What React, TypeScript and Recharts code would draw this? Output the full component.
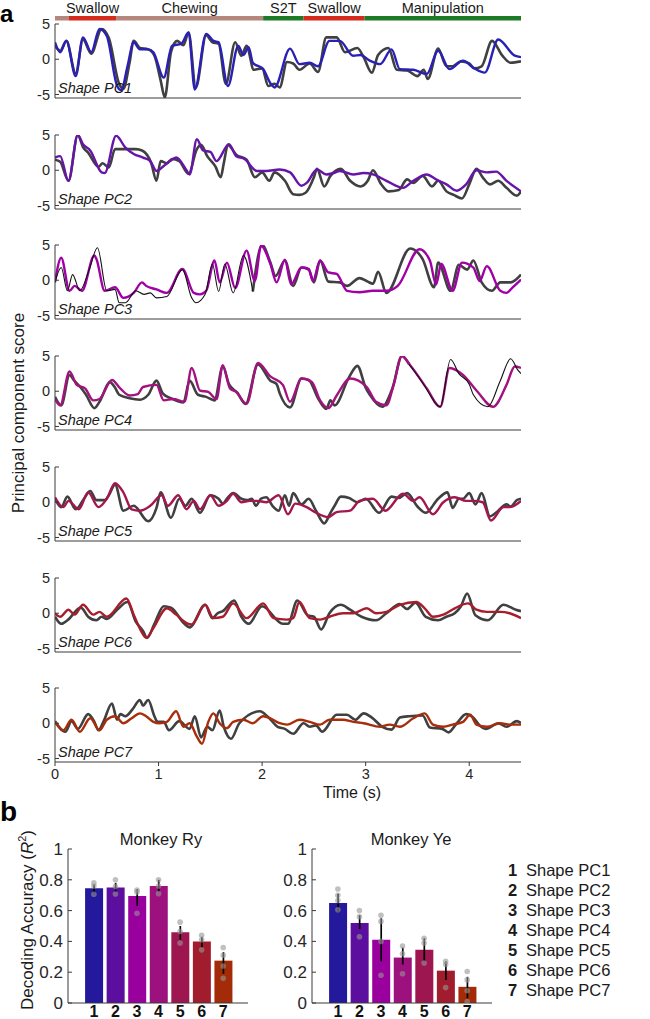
import React from 'react';
import {
  LineChart, Line, XAxis, YAxis, BarChart, Bar, ComposedChart, ErrorBar, Scatter, Cell,
} from 'recharts';

const FONT = '"Liberation Sans", Arial, Helvetica, sans-serif';
const INK = '#262626';
const AXIS = '#3a3a3a';
const GRAY = '#404040';

// ---------------- behaviour bar ----------------
const behaviourNames = ['Chewing', 'Swallow', 'Chewing', 'S2T', 'Swallow', 'Manipulation'];
const behaviourBounds = [0, 0.135, 0.59, 2.01, 2.4, 2.99, 4.5];
const behaviourShowLabel = [false, true, true, true, true, true];
const behaviourColors: Record<string, string> = {
  Chewing: '#b5867b', Swallow: '#d52b1d', S2T: '#1d7a27', Manipulation: '#1d7a27',
};

// ---------------- traces ----------------
const timeDomain = [0, 4.5];
const timeTicks = [0, 1, 2, 3, 4];
const scoreDomain = [-5.5, 5];
const scoreTicks = [-5, 0, 5];
const pcNames = ['Shape PC1', 'Shape PC2', 'Shape PC3', 'Shape PC4', 'Shape PC5', 'Shape PC6', 'Shape PC7'];
const pcLineColors = ['#2a20b5', '#6714a8', '#a000a6', '#a3127f', '#a3164e', '#a81d2c', '#a82d0b'];

const pc1Actual = [[0,1.9],[0.05,1.2],[0.11,2.6],[0.2,-2.0],[0.27,2.8],[0.35,0.8],[0.45,4.3],[0.52,3.0],[0.62,-3.5],[0.66,-4.2],[0.72,-0.5],[0.76,2.6],[0.82,1.6],[0.9,1.4],[0.96,0.5],[1.02,-3.0],[1.06,-5.4],[1.12,1.0],[1.18,2.6],[1.24,2.0],[1.29,3.8],[1.36,-4.0],[1.46,3.4],[1.52,2.4],[1.58,2.2],[1.65,-3.5],[1.74,2.4],[1.8,0.5],[1.85,1.9],[1.92,-1.5],[2.0,-1.3],[2.06,-3.8],[2.12,-3.5],[2.17,-4.0],[2.24,-0.4],[2.3,-0.6],[2.36,-1.5],[2.46,-0.6],[2.54,-1.8],[2.62,3.1],[2.72,3.1],[2.8,1.0],[2.92,1.6],[2.98,0.3],[3.06,-1.9],[3.12,0.6],[3.22,1.6],[3.3,-1.5],[3.4,-1.6],[3.5,-2.4],[3.56,-1.5],[3.6,-2.8],[3.7,1.5],[3.78,-1.0],[3.84,-1.0],[3.92,-0.3],[4.0,-0.6],[4.05,-1.3],[4.12,-1.0],[4.22,2.6],[4.32,0.5],[4.4,-0.5],[4.5,-0.3]];
const pc1Decoded = [[0,2.4],[0.05,1.0],[0.11,2.6],[0.2,-2.4],[0.27,3.1],[0.35,1.0],[0.43,4.3],[0.5,3.3],[0.6,-3.8],[0.64,-4.4],[0.7,-1.0],[0.76,2.4],[0.82,1.4],[0.9,1.4],[0.95,1.0],[1.05,-2.6],[1.13,1.9],[1.22,2.2],[1.29,3.8],[1.35,-4.3],[1.46,3.6],[1.53,2.6],[1.58,2.4],[1.67,-3.8],[1.77,1.9],[1.82,0.6],[1.87,1.7],[1.91,-0.5],[2.01,-1.4],[2.08,-3.4],[2.12,-4.0],[2.27,1.5],[2.36,-0.7],[2.46,-0.5],[2.54,-1.0],[2.65,2.6],[2.75,2.6],[2.88,0.5],[2.95,0.6],[3.04,-0.2],[3.14,-0.7],[3.25,1.4],[3.33,-1.4],[3.46,-1.5],[3.59,-2.1],[3.7,1.2],[3.81,-1.4],[3.94,-0.2],[4.04,-1.2],[4.15,-1.9],[4.28,2.8],[4.44,0.5],[4.5,0.3]];

const pc2Actual = [[0,1.5],[0.05,1.2],[0.13,-1.5],[0.22,5.0],[0.27,3.3],[0.32,2.5],[0.42,0.5],[0.46,1.0],[0.52,0.4],[0.58,3.0],[0.68,3.0],[0.78,3.0],[0.84,2.8],[0.93,1.0],[0.98,-1.5],[1.02,1.3],[1.08,1.0],[1.13,1.6],[1.2,1.3],[1.29,-0.5],[1.37,3.0],[1.41,3.6],[1.47,2.0],[1.55,0.5],[1.6,-1.0],[1.63,1.0],[1.67,3.6],[1.75,2.2],[1.85,1.5],[1.93,-1.0],[2.0,-0.3],[2.07,-1.5],[2.12,-0.3],[2.22,-1.5],[2.3,-3.4],[2.36,-3.5],[2.42,-3.2],[2.5,-1.0],[2.53,0.2],[2.6,-2.3],[2.66,-0.8],[2.76,0.2],[2.85,-1.5],[2.95,-2.3],[3.02,-1.5],[3.07,0],[3.15,-2.0],[3.22,-3.0],[3.32,-2.8],[3.4,-1.3],[3.46,-1.8],[3.55,-0.8],[3.64,-2.3],[3.7,-1.5],[3.78,-3.0],[3.85,-3.5],[3.93,-4.0],[4.0,-2.0],[4.07,0.2],[4.13,-1.0],[4.2,-2.0],[4.28,-1.5],[4.36,-2.5],[4.46,-3.6],[4.5,-3.0]];
const pc2Decoded = [[0,1.8],[0.05,2.0],[0.13,-1.5],[0.22,5.0],[0.27,3.7],[0.34,2.8],[0.45,-0.3],[0.48,-0.4],[0.59,4.9],[0.68,3.2],[0.76,2.3],[0.85,1.8],[0.92,1.3],[0.98,-0.1],[1.05,0.6],[1.11,1.3],[1.17,1.8],[1.27,0],[1.3,-0.6],[1.37,4.4],[1.43,2.8],[1.5,2.6],[1.56,1.3],[1.68,3.7],[1.75,2.0],[1.83,1.6],[1.95,-0.1],[2.04,-0.1],[2.17,0.1],[2.27,-0.3],[2.38,-2.2],[2.43,-1.8],[2.53,0.1],[2.62,-0.6],[2.69,-0.4],[2.75,-0.1],[2.88,-0.6],[2.98,-0.4],[3.07,-0.6],[3.2,-1.5],[3.36,-2.5],[3.46,-1.5],[3.59,-0.6],[3.68,-1.3],[3.78,-2.0],[3.88,-2.9],[3.97,-2.0],[4.07,0],[4.17,-0.3],[4.26,-0.2],[4.36,-1.5],[4.5,-3.0]];

const pc3Actual = [[0,-0.3],[0.06,1.8],[0.12,-1.5],[0.17,0.8],[0.24,-1.5],[0.33,1.5],[0.41,4.6],[0.5,-1.5],[0.58,-1.3],[0.62,-3.2],[0.68,-3.2],[0.78,-1.5],[0.86,-2.0],[0.92,-1.8],[0.98,-2.5],[1.08,-2.3],[1.23,1.5],[1.32,-2.5],[1.36,-3.2],[1.45,-2.0],[1.52,2.3],[1.58,-1.6],[1.64,2.3],[1.72,-1.8],[1.82,3.5],[1.91,-1.6],[2.0,5.0],[2.08,2.5],[2.13,0.6],[2.22,2.8],[2.3,-0.8],[2.38,1.8],[2.45,1.5],[2.5,-0.3],[2.56,2.8],[2.64,-0.2],[2.75,-0.3],[2.82,-0.8],[2.94,0.3],[3.02,-0.2],[3.07,-0.5],[3.12,1.2],[3.2,-1.8],[3.43,4.5],[3.55,3.0],[3.66,-1.0],[3.7,2.5],[3.82,-1.5],[3.9,2.2],[3.98,1.5],[4.04,2.8],[4.12,-0.3],[4.22,-1.5],[4.3,-0.3],[4.4,-0.3],[4.5,0.8]];
const pc3Decoded = [[0,-0.3],[0.06,3.2],[0.14,-1.5],[0.19,-0.8],[0.26,-1.5],[0.38,3.5],[0.4,3.0],[0.48,-1.5],[0.58,-1.0],[0.66,-2.5],[0.76,-1.8],[0.84,-0.3],[0.88,-0.8],[0.98,-1.3],[1.08,-1.8],[1.23,1.6],[1.34,-1.8],[1.4,-2.0],[1.46,-1.5],[1.54,2.8],[1.59,-0.3],[1.66,2.5],[1.74,-1.1],[1.85,4.2],[1.93,-0.1],[1.99,4.9],[2.08,2.3],[2.14,-0.3],[2.22,2.9],[2.28,-0.6],[2.38,1.8],[2.45,1.6],[2.49,-0.1],[2.56,2.8],[2.64,1.1],[2.72,0.9],[2.82,-1.5],[2.94,-1.7],[3.07,-1.5],[3.2,-1.5],[3.31,-0.8],[3.52,4.4],[3.62,2.8],[3.68,-0.6],[3.73,2.3],[3.84,-1.5],[3.93,2.5],[4.04,1.8],[4.1,-0.1],[4.17,2.0],[4.3,-1.5],[4.36,-1.8],[4.42,-1.0],[4.5,0.1]];

const pc4Actual = [[0,-0.8],[0.06,-2.0],[0.14,2.3],[0.18,1.6],[0.25,0.5],[0.3,-0.5],[0.38,-2.4],[0.43,-1.5],[0.53,1.3],[0.58,0.5],[0.62,-0.5],[0.72,-1.0],[0.82,-1.2],[0.9,-0.5],[0.98,1.5],[1.04,-0.3],[1.12,-1.0],[1.24,-1.6],[1.3,1.5],[1.38,-0.5],[1.46,-0.8],[1.54,-1.3],[1.62,3.5],[1.68,1.0],[1.76,-0.2],[1.84,-1.8],[1.96,3.8],[2.08,1.5],[2.14,1.0],[2.17,-0.3],[2.27,-2.3],[2.38,1.8],[2.45,1.6],[2.54,-1.0],[2.62,-2.5],[2.66,-1.3],[2.7,-2.0],[2.84,2.0],[2.92,3.6],[3.0,0.5],[3.04,-0.5],[3.16,-2.2],[3.26,0.5],[3.35,5.0],[3.42,3.8],[3.58,0.5],[3.62,-0.5],[3.72,-2.2],[3.82,4.5],[3.9,2.5],[4.0,1.0],[4.04,-0.5],[4.18,-2.2],[4.3,1.5],[4.4,4.6],[4.47,3.0],[4.5,2.5]];
const pc4Decoded = [[0,-1.1],[0.05,-2.0],[0.14,2.8],[0.21,0.9],[0.29,0.4],[0.37,-1.3],[0.43,-1.1],[0.55,1.6],[0.63,0.4],[0.72,-0.6],[0.8,-0.4],[0.85,0.6],[0.98,0.9],[1.05,-1.3],[1.14,-1.1],[1.25,-1.5],[1.32,3.3],[1.4,0.1],[1.48,-0.1],[1.56,-1.1],[1.62,3.7],[1.69,0.4],[1.75,-0.1],[1.85,-1.8],[1.96,4.0],[2.08,2.1],[2.2,0.9],[2.27,-1.5],[2.38,1.8],[2.48,1.3],[2.56,-1.3],[2.64,-2.4],[2.72,-0.6],[2.85,1.8],[3.01,0.6],[3.1,-1.5],[3.2,-2.0],[3.27,0.9],[3.35,5.0],[3.43,3.7],[3.59,0.4],[3.72,-2.2],[3.81,3.3],[3.94,2.3],[4.07,0.1],[4.23,-2.2],[4.36,0.9],[4.44,3.5],[4.5,3.3]];

const pc5Actual = [[0,0.5],[0.06,-0.7],[0.12,0.8],[0.2,-1.0],[0.28,0.5],[0.34,1.6],[0.4,0.3],[0.48,0.3],[0.52,1.0],[0.58,2.5],[0.66,-1.2],[0.76,-0.5],[0.9,-2.7],[0.98,-0.8],[1.02,1.4],[1.12,-2.2],[1.2,0.5],[1.26,-0.5],[1.32,0.5],[1.4,-1.5],[1.5,1.0],[1.58,0.5],[1.62,-0.2],[1.66,0.5],[1.72,1.3],[1.8,0.5],[1.86,0.3],[1.9,0.5],[1.94,-0.5],[1.99,0.5],[2.04,0.7],[2.1,-0.5],[2.16,-1.2],[2.22,1.0],[2.26,-0.5],[2.3,1.3],[2.38,-0.3],[2.45,0.5],[2.52,-1.2],[2.6,-3.0],[2.66,-1.5],[2.7,-0.5],[2.76,0.8],[2.84,0.6],[2.92,0],[3.0,0.5],[3.13,-1.5],[3.25,0.8],[3.32,0.6],[3.4,1.3],[3.5,-0.6],[3.58,-1.5],[3.7,0.5],[3.79,1.4],[3.84,-0.8],[3.9,0.5],[3.94,0.5],[4.0,1.3],[4.06,-0.3],[4.12,1.3],[4.2,-2.0],[4.28,-1.2],[4.36,-0.3],[4.4,-0.6],[4.46,0.3],[4.5,0.5]];
const pc5Decoded = [[0,0.7],[0.08,-0.7],[0.13,0.2],[0.23,-1.0],[0.32,1.4],[0.42,-0.7],[0.5,0.5],[0.58,2.7],[0.66,1.4],[0.74,-1.0],[0.82,-1.2],[0.92,-0.5],[1.03,1.0],[1.09,-0.5],[1.19,1.0],[1.27,-1.0],[1.34,0.2],[1.4,-1.0],[1.5,1.0],[1.58,-0.5],[1.66,0.2],[1.72,1.2],[1.8,0],[1.88,0.2],[1.95,0.2],[2.04,0],[2.16,1.0],[2.25,-1.7],[2.32,-0.2],[2.43,-0.7],[2.51,-1.4],[2.64,-2.1],[2.72,-1.4],[2.85,-1.2],[2.94,0.2],[3.07,0.5],[3.19,-1.2],[3.36,1.2],[3.46,0.2],[3.52,0.7],[3.65,-1.7],[3.75,0],[3.86,0.7],[3.97,0.2],[4.04,0.2],[4.13,0],[4.21,-2.6],[4.33,-0.7],[4.39,-0.7],[4.5,0.2]];

const pc6Actual = [[0,-0.5],[0.06,-1.5],[0.12,-1.0],[0.25,0.8],[0.32,-0.5],[0.4,-1.0],[0.45,-0.5],[0.5,-0.8],[0.6,0.5],[0.7,1.6],[0.78,-1.2],[0.85,-2.5],[0.89,-3.5],[0.96,-1.5],[1.05,1.0],[1.12,0.8],[1.25,-1.5],[1.3,-2.0],[1.45,1.2],[1.52,-0.7],[1.57,0],[1.62,0.3],[1.73,1.8],[1.8,-0.5],[1.87,-1.5],[2.0,1.0],[2.2,-1.5],[2.25,-1.5],[2.34,1.8],[2.44,-0.3],[2.5,-0.5],[2.57,-2.3],[2.65,0],[2.76,1.2],[2.85,0.5],[2.96,-0.5],[3.1,-1.0],[3.2,0],[3.33,1.3],[3.4,0.6],[3.48,1.5],[3.58,-0.5],[3.7,-1.0],[3.78,-0.5],[3.86,0],[3.92,1.0],[3.98,2.8],[4.06,-0.3],[4.18,-1.0],[4.33,1.2],[4.45,0.5],[4.5,0.3]];
const pc6Decoded = [[0,0],[0.05,-0.5],[0.13,0.5],[0.19,-0.2],[0.27,1.2],[0.37,-0.2],[0.43,0.2],[0.5,-0.5],[0.69,2.1],[0.76,-0.2],[0.85,-3.0],[0.88,-3.5],[0.95,-2.1],[1.08,0.7],[1.17,-0.2],[1.27,-1.4],[1.32,-1.6],[1.45,1.2],[1.53,-0.7],[1.62,-0.5],[1.72,1.4],[1.85,-0.7],[2.01,1.4],[2.11,-0.7],[2.24,-0.9],[2.3,-0.7],[2.36,1.6],[2.46,-0.7],[2.56,-0.9],[2.65,-0.5],[2.78,0],[2.88,0],[3.01,0.7],[3.1,0],[3.2,0.2],[3.33,1.2],[3.49,1.6],[3.57,0.7],[3.65,-0.5],[3.75,-0.2],[3.86,0.7],[3.99,1.4],[4.07,0.5],[4.17,0.2],[4.3,0.2],[4.39,0],[4.5,-0.7]];

const pc7Actual = [[0,0.3],[0.1,-1.2],[0.16,0.3],[0.22,-0.8],[0.32,1.3],[0.38,0.2],[0.42,-1.0],[0.47,0.3],[0.55,2.8],[0.6,0.5],[0.63,1.3],[0.68,1.0],[0.75,2.0],[0.82,3.3],[0.85,2.5],[0.9,3.3],[0.96,1.0],[0.99,0.2],[1.05,0.2],[1.1,-1.0],[1.2,0.3],[1.3,-0.8],[1.35,1.0],[1.41,-2.0],[1.47,-0.5],[1.52,-1.0],[1.59,1.8],[1.63,-0.5],[1.7,-2.2],[1.78,0],[1.98,1.7],[2.05,1.0],[2.15,-0.5],[2.22,-0.8],[2.3,-1.5],[2.4,0],[2.46,-0.5],[2.52,-0.3],[2.58,-1.2],[2.72,1.2],[2.82,1.2],[2.9,0.5],[2.98,1.4],[3.06,0.8],[3.16,-0.5],[3.25,-0.9],[3.33,0.8],[3.42,1.0],[3.55,1.1],[3.62,-0.6],[3.74,-0.8],[3.8,-1.3],[3.88,0],[3.97,1.3],[4.04,0.8],[4.1,-0.3],[4.16,-0.8],[4.28,0],[4.36,-0.5],[4.46,0.3],[4.5,0]];
const pc7Decoded = [[0,0.2],[0.08,-1.0],[0.16,0.5],[0.24,-1.2],[0.34,0.7],[0.43,-1.0],[0.5,0.5],[0.58,1.0],[0.66,0],[0.74,0.7],[0.82,1.4],[0.88,1.0],[0.95,0.2],[1.01,0],[1.08,0.2],[1.17,1.7],[1.24,-0.5],[1.3,0],[1.37,-1.9],[1.42,-2.9],[1.48,0.2],[1.53,1.4],[1.59,0],[1.66,-0.7],[1.72,0.2],[1.82,0.5],[1.91,0],[2.01,1.0],[2.08,0.7],[2.17,0],[2.24,-0.2],[2.36,0.5],[2.46,0.2],[2.56,-0.2],[2.65,0.5],[2.78,0.5],[2.88,0.2],[2.98,0],[3.14,-0.5],[3.23,-0.2],[3.33,-0.5],[3.46,0.7],[3.57,1.4],[3.65,-0.2],[3.75,-0.5],[3.84,-0.2],[3.94,0.2],[4.01,1.2],[4.07,-0.2],[4.17,-0.5],[4.3,0],[4.39,-0.2],[4.5,-0.2]];

const actualSeries = [pc1Actual, pc2Actual, pc3Actual, pc4Actual, pc5Actual, pc6Actual, pc7Actual];
const decodedSeries = [pc1Decoded, pc2Decoded, pc3Decoded, pc4Decoded, pc5Decoded, pc6Decoded, pc7Decoded];
// time span in which the actual trace is drawn as a thin black line
const thinSpans: (number[] | null)[] = [null, null, [0, 1.91], [3.42, 4.5], null, null, null];

// ---------------- decoding accuracy ----------------
const pcIndex = [1, 2, 3, 4, 5, 6, 7];
const accTicks = [0, 0.2, 0.4, 0.6, 0.8, 1];
const barColors = ['#24199c', '#5c0f9e', '#9a009e', '#9c117e', '#9e1650', '#a11d2d', '#a32b07'];

const ryMean = [0.745, 0.75, 0.695, 0.76, 0.46, 0.40, 0.275];
const ryLow = [0.71, 0.72, 0.63, 0.72, 0.41, 0.36, 0.19];
const ryHigh = [0.77, 0.78, 0.74, 0.80, 0.50, 0.43, 0.33];
const ryPoints = [[0.78, 0.76, 0.706], [0.80, 0.756, 0.708], [0.734, 0.72, 0.583], [0.80, 0.76, 0.71], [0.525, 0.464, 0.39], [0.44, 0.41, 0.345], [0.36, 0.31, 0.24, 0.16]];

const yeMean = [0.65, 0.52, 0.41, 0.295, 0.345, 0.21, 0.105];
const yeLow = [0.59, 0.48, 0.27, 0.25, 0.27, 0.15, 0.03];
const yeHigh = [0.71, 0.57, 0.55, 0.36, 0.42, 0.27, 0.17];
const yePoints = [[0.74, 0.70, 0.665, 0.605], [0.60, 0.56, 0.43], [0.57, 0.53, 0.40, 0.18], [0.37, 0.32, 0.19], [0.42, 0.39, 0.26], [0.27, 0.25, 0.10], [0.205, 0.15, 0.08, 0.01]];

// ---------------- layout constants ----------------
const FIRST_TOP = 24;
const STEP = 110.7;
const PLOT_H = 74;
const TOP_PAD = 24;

const toPts = (arr: number[][]) => arr.map(([t, v]) => ({ t, v }));

function BehaviourBar() {
  const row: Record<string, any> = { row: 'b' };
  behaviourNames.forEach((_, k) => { row[`s${k}`] = behaviourBounds[k + 1] - behaviourBounds[k]; });
  return (
    <div style={{ position: 'absolute', left: 0, top: 0 }}>
      <BarChart layout="vertical" width={650} height={22} data={[row]}
        margin={{ top: 16, right: 129, bottom: 1, left: 55 }} barCategoryGap={0}>
        <XAxis type="number" domain={timeDomain} hide allowDataOverflow />
        <YAxis type="category" dataKey="row" hide />
        {behaviourNames.map((n, k) => (
          <Bar key={k} dataKey={`s${k}`} stackId="b" fill={behaviourColors[n]} barSize={5}
            isAnimationActive={false}
            label={behaviourShowLabel[k] ? (p: any) => (
              <text x={p.x + p.width / 2} y={p.y - 3} textAnchor="middle" fill="#1a1a1a"
                fontSize={14.5} fontFamily={FONT}>{n}</text>
            ) : false} />
        ))}
      </BarChart>
    </div>
  );
}

function TracePanel({ idx }: { idx: number }) {
  const top = FIRST_TOP + idx * STEP;
  const isLast = idx === pcNames.length - 1;
  const xh = isLast ? 30 : 6;
  const actual = actualSeries[idx];
  const span = thinSpans[idx];
  const thin = span ? actual.filter(([t]) => t >= span[0] && t <= span[1]) : [];
  const thickBefore = span ? actual.filter(([t]) => t <= span[0]) : actual;
  const thickAfter = span ? actual.filter(([t]) => t >= span[1]) : [];
  const tickStyle = { fill: INK, fontSize: 14.5, fontFamily: FONT };
  return (
    <div style={{ position: 'absolute', left: 0, top: top - TOP_PAD }}>
      <LineChart width={650} height={TOP_PAD + PLOT_H + xh}
        margin={{ top: TOP_PAD, right: 129, bottom: 0, left: 0 }}>
        <XAxis type="number" dataKey="t" domain={timeDomain} ticks={timeTicks} allowDataOverflow
          interval={0} height={xh} tick={isLast ? tickStyle : false} tickSize={4} tickMargin={3}
          stroke={AXIS} />
        <YAxis type="number" domain={scoreDomain} ticks={scoreTicks} allowDataOverflow interval={0}
          width={55} tickSize={-4} tickMargin={9} stroke={AXIS} tick={tickStyle} />
        {thickBefore.length > 1 && (
          <Line data={toPts(thickBefore)} dataKey="v" type="monotone" stroke={GRAY} strokeWidth={2.6}
            dot={false} isAnimationActive={false} />
        )}
        {thickAfter.length > 1 && (
          <Line data={toPts(thickAfter)} dataKey="v" type="monotone" stroke={GRAY} strokeWidth={2.6}
            dot={false} isAnimationActive={false} />
        )}
        <Line data={toPts(decodedSeries[idx])} dataKey="v" type="monotone" stroke={pcLineColors[idx]}
          strokeWidth={2.4} dot={false} isAnimationActive={false} />
        {thin.length > 1 && (
          <Line data={toPts(thin)} dataKey="v" type="monotone" stroke="#111" strokeWidth={1.1}
            dot={false} isAnimationActive={false} />
        )}
      </LineChart>
      <div style={{ position: 'absolute', left: 58, top: TOP_PAD + 57, fontStyle: 'italic',
        fontFamily: FONT, fontSize: 14.5, lineHeight: '15px', color: '#1a1a1a', whiteSpace: 'nowrap' }}>
        {pcNames[idx]}
      </div>
    </div>
  );
}

function AccuracyChart({ left, titleCenter, title, mean, low, high, points }:
  { left: number; titleCenter: number; title: string; mean: number[]; low: number[]; high: number[]; points: number[][] }) {
  const rows = pcIndex.map((x, i) => ({ x, mean: mean[i], err: [mean[i] - low[i], high[i] - mean[i]] }));
  const dots: { x: number; y: number }[] = [];
  points.forEach((ps, i) => ps.forEach((y) => dots.push({ x: pcIndex[i], y })));
  const tickStyle = { fill: INK, fontSize: 17, fontFamily: FONT };
  return (
    <div style={{ position: 'absolute', left, top: 840 }}>
      <ComposedChart width={260} height={179} data={rows} margin={{ top: 9, right: 12, bottom: 0, left: 0 }}>
        <XAxis type="number" dataKey="x" domain={[-0.2, 8.15]} ticks={pcIndex} allowDataOverflow interval={0}
          height={16} tickLine={false} tickSize={0} tickMargin={3} stroke={AXIS}
          tick={{ fill: '#111', fontSize: 16, fontWeight: 'bold', fontFamily: FONT }} />
        <YAxis type="number" domain={[0, 1]} ticks={accTicks} allowDataOverflow interval={0} width={68}
          tickSize={-4} tickMargin={9} stroke={AXIS} tick={tickStyle} />
        <Bar dataKey="mean" barSize={18} isAnimationActive={false}>
          {rows.map((_, i) => <Cell key={i} fill={barColors[i]} />)}
          <ErrorBar dataKey="err" width={0} stroke="#000" strokeWidth={1.7} direction="y" />
        </Bar>
        <Scatter data={dots} dataKey="y" isAnimationActive={false}
          shape={(p: any) => <circle cx={p.cx} cy={p.cy} r={2.8} fill="rgb(150,150,150)" fillOpacity={0.6} />} />
      </ComposedChart>
      <div style={{ position: 'absolute', left: titleCenter, top: -9,
        transform: 'translateX(-50%)', fontFamily: FONT, fontSize: 16.5, lineHeight: '17px',
        color: '#1a1a1a', whiteSpace: 'nowrap' }}>{title}</div>
    </div>
  );
}

export default function App() {
  return (
    <div style={{ position: 'absolute', left: 0, top: 0, width: 650, height: 1019, background: '#fff',
      fontFamily: FONT, overflow: 'hidden' }}>
      <div style={{ position: 'absolute', left: 0, top: 0, fontSize: 24, fontWeight: 'bold', lineHeight: 'normal' }}>a</div>
      <BehaviourBar />
      {pcNames.map((_, i) => <TracePanel key={i} idx={i} />)}
      <div style={{ position: 'absolute', left: 18, top: 413, transform: 'translate(-50%, -50%) rotate(-90deg)',
        fontSize: 17, whiteSpace: 'nowrap', color: '#1a1a1a', lineHeight: '17px' }}>Principal component score</div>
      <div style={{ position: 'absolute', left: 323, top: 785, fontSize: 16, lineHeight: '16px',
        color: '#1a1a1a', whiteSpace: 'nowrap' }}>Time (s)</div>

      <div style={{ position: 'absolute', left: 0, top: 796, fontSize: 28, fontWeight: 'bold', lineHeight: 'normal' }}>b</div>
      <div style={{ position: 'absolute', left: 25, top: 920, transform: 'translate(-50%, -50%) rotate(-90deg)',
        fontSize: 17, whiteSpace: 'nowrap', color: '#1a1a1a', lineHeight: '17px' }}>
        Decoding Accuracy (<i>R</i><sup style={{ fontSize: 11 }}>2</sup>)
      </div>
      <AccuracyChart left={0} titleCenter={161} title="Monkey Ry" mean={ryMean} low={ryLow} high={ryHigh} points={ryPoints} />
      <AccuracyChart left={244} titleCenter={167} title="Monkey Ye" mean={yeMean} low={yeLow} high={yeHigh} points={yePoints} />

      <div style={{ position: 'absolute', left: 508, top: 860 }}>
        {pcNames.map((n, i) => (
          <div key={i} style={{ height: 20, lineHeight: '20px', fontSize: 16.5, color: '#1a1a1a', whiteSpace: 'nowrap' }}>
            <span style={{ display: 'inline-block', width: 18, fontWeight: 'bold' }}>{pcIndex[i]}</span>{n}
          </div>
        ))}
      </div>
    </div>
  );
}
